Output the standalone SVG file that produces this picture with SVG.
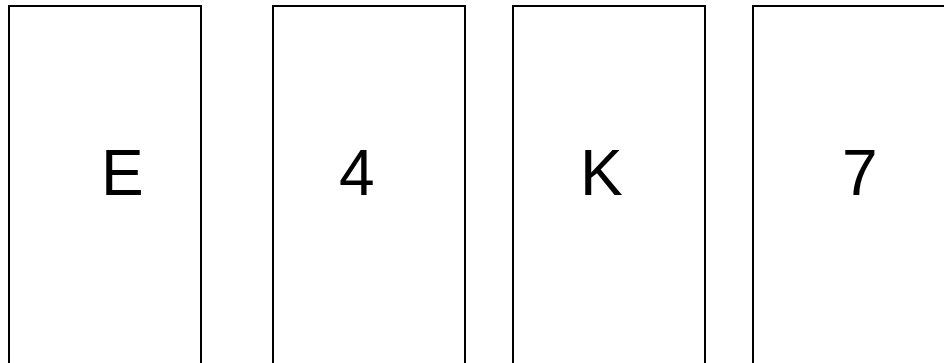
<svg xmlns="http://www.w3.org/2000/svg" width="944" height="363" viewBox="0 0 944 363">
<style>
.card{fill:#fff;stroke:#000;stroke-width:2}
.lbl{font-family:"Liberation Sans",Arial,sans-serif;font-size:64px;fill:#000}
</style>
<rect width="944" height="363" fill="#fff"/>
<g id="card-E"><rect class="card" x="9" y="6" width="192" height="370"/><text class="lbl" x="101" y="195">E</text></g>
<g id="card-4"><rect class="card" x="273" y="6" width="192" height="370"/><text class="lbl" x="339" y="195">4</text></g>
<g id="card-K"><rect class="card" x="513" y="6" width="192" height="370"/><text class="lbl" x="580" y="195">K</text></g>
<g id="card-7"><rect class="card" x="753" y="6" width="192" height="370"/><text class="lbl" x="842" y="195">7</text></g>
<g id="connectors"/>
</svg>
